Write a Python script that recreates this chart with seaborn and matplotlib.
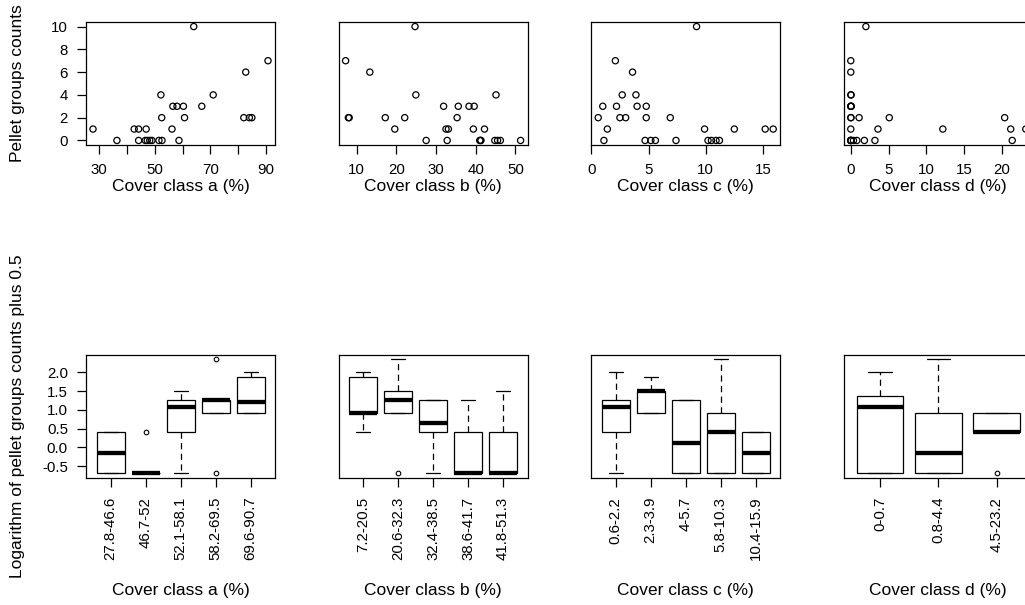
import numpy as np
import pandas as pd
import matplotlib
matplotlib.use("Agg")
import matplotlib.pyplot as plt
import seaborn as sns

# Cover (%) and pellet group counts per sampling plot, one pair per cover class
cover_a = [27.8, 36.4, 42.6, 44.2, 44.2, 46.6,
           46.9, 47.3, 48.2, 49.0, 51.5,
           52.6, 52.2, 52.5, 56.2, 56.5, 58.0,
           58.7, 60.3, 60.7, 64.0, 66.9,
           71.0, 82.0, 82.7, 84.0, 84.9, 90.7]
count_a = [1, 0, 1, 1, 0, 0,
           1, 0, 0, 0, 0,
           0, 4, 2, 1, 3, 3,
           0, 3, 2, 10, 3,
           4, 2, 6, 2, 2, 7]

cover_b = [7.2, 7.9, 8.1, 13.3, 17.2, 19.6,
           22.1, 24.7, 24.9, 27.5, 31.9,
           32.5, 32.8, 33.1, 35.3, 35.6, 38.3,
           39.4, 39.6, 41.0, 41.2, 41.3,
           42.2, 44.8, 45.1, 45.5, 46.2, 51.3]
count_b = [7, 2, 2, 6, 2, 1,
           2, 10, 4, 0, 3,
           1, 0, 1, 2, 3, 3,
           1, 3, 0, 0, 0,
           1, 0, 4, 0, 0, 0]

cover_c = [0.6, 1.0, 1.1, 1.4, 2.1, 2.2,
           2.5, 2.7, 3.0, 3.6, 3.9,
           4.0, 4.7, 4.8, 4.8, 5.2, 5.6,
           6.9, 7.4, 9.2, 9.9, 10.2,
           10.5, 10.9, 11.2, 12.5, 15.2, 15.9]
count_c = [2, 3, 0, 1, 7, 3,
           2, 4, 2, 6, 4,
           3, 0, 3, 2, 0, 0,
           2, 0, 10, 1, 0,
           0, 0, 0, 1, 1, 1]

cover_d = [0, 0, 0, 0, 0.35, 0, 0, 0.02, 0, 0, 0.04, 0.04, 0, 0.04, 0, 0,
           0.8, 1.1, 1.8, 2.0, 3.2, 3.6,
           5.1, 12.2, 20.4, 21.2, 21.4, 23.2]
count_d = [0, 0, 0, 0, 0, 1, 2, 2, 3, 3, 3, 3, 4, 4, 6, 7,
           0, 2, 0, 10, 0, 1,
           2, 1, 2, 1, 0, 1]

# Cover classes (ranges in %) used for the boxplots
classes_a = ["27.8-46.6", "46.7-52", "52.1-58.1", "58.2-69.5", "69.6-90.7"]
classes_b = ["7.2-20.5", "20.6-32.3", "32.4-38.5", "38.6-41.7", "41.8-51.3"]
classes_c = ["0.6-2.2", "2.3-3.9", "4-5.7", "5.8-10.3", "10.4-15.9"]
classes_d = ["0-0.7", "0.8-4.4", "4.5-23.2"]

# Axis ticks
ticks_a = [30, 40, 50, 60, 70, 80, 90]
ticklabels_a = ["30", "", "50", "", "70", "", "90"]
ticks_b = [10, 20, 30, 40, 50]
ticks_c = [0, 5, 10, 15]
ticks_d = [0, 5, 10, 15, 20]
count_ticks = [0, 2, 4, 6, 8, 10]
log_ticks = [-0.5, 0.0, 0.5, 1.0, 1.5, 2.0]
log_ticklabels = ["-0.5", "0.0", "0.5", "1.0", "1.5", "2.0"]

panels = [
    ("a", cover_a, count_a, classes_a, ticks_a, ticklabels_a),
    ("b", cover_b, count_b, classes_b, ticks_b, [str(t) for t in ticks_b]),
    ("c", cover_c, count_c, classes_c, ticks_c, [str(t) for t in ticks_c]),
    ("d", cover_d, count_d, classes_d, ticks_d, [str(t) for t in ticks_d]),
]


def tukey_stats(values, label, coef=1.5):
    """Five-number summary with Tukey hinges and 1.5 IQR whiskers."""
    v = np.sort(np.asarray(values, dtype=float))
    n = len(v)
    n4 = np.floor((n + 3) / 2) / 2
    d = np.array([1, n4, (n + 1) / 2, n + 1 - n4, n]) - 1
    five = 0.5 * (v[np.floor(d).astype(int)] + v[np.ceil(d).astype(int)])
    q1, med, q3 = five[1], five[2], five[3]
    iqr = q3 - q1
    out = (v < q1 - coef * iqr) | (v > q3 + coef * iqr)
    inside = v[~out]
    return dict(med=med, q1=q1, q3=q3, whislo=inside.min(),
                whishi=inside.max(), fliers=v[out], label=label)


def padded(lo, hi, frac=0.04):
    pad = (hi - lo) * frac
    return lo - pad, hi + pad


sns.set_theme(style="ticks")
plt.rcParams.update({
    "font.family": ["Liberation Sans", "DejaVu Sans"],
    "axes.edgecolor": "black",
    "axes.linewidth": 0.9,
    "axes.labelcolor": "black",
    "text.color": "black",
    "xtick.color": "black",
    "ytick.color": "black",
    "xtick.direction": "out",
    "ytick.direction": "out",
    "axes.facecolor": "white",
    "figure.facecolor": "white",
})

W, H, DPI = 1025, 605, 100
fig = plt.figure(figsize=(W / DPI, H / DPI), dpi=DPI)


def rect(left, top, right, bottom):
    return [left / W, 1 - bottom / H, (right - left) / W, (bottom - top) / H]


col_left = [86, 338.6, 591.2, 843.8]
col_width = 189
top_row = (22, 145)
bottom_row = (354.5, 478)

tick_kw = dict(length=6.5, width=0.9, pad=6.5, labelsize=10.8)
label_size = 12.5

for i, (name, cover, count, classes, xt, xtl) in enumerate(panels):
    cover = np.asarray(cover, dtype=float)
    count = np.asarray(count, dtype=float)
    xlabel = f"Cover class {name} (%)"

    # --- scatter of raw counts against cover ---
    ax = fig.add_axes(rect(col_left[i], top_row[0], col_left[i] + col_width, top_row[1]))
    df = pd.DataFrame({"cover": cover, "count": count})
    sns.scatterplot(data=df, x="cover", y="count", ax=ax, marker="o", s=20,
                    facecolors="none", edgecolor="black", linewidth=0.9,
                    legend=False, zorder=3)
    ax.set_xlim(*padded(cover.min(), cover.max()))
    ax.set_ylim(*padded(count.min(), count.max()))
    ax.set_xticks(xt, labels=xtl)
    ax.tick_params(axis="both", **tick_kw)
    if i == 0:
        ax.set_yticks(count_ticks, labels=[str(t) for t in count_ticks])
        ax.set_ylabel("Pellet groups counts", fontsize=label_size)
        ax.yaxis.label.set_verticalalignment("center")
        ax.yaxis.set_label_coords((17.5 - col_left[0]) / col_width, 0.5)
    else:
        ax.set_yticks([])
        ax.set_ylabel("")
    ax.set_xlabel(xlabel, fontsize=label_size)
    ax.xaxis.label.set_verticalalignment("center")
    ax.xaxis.set_label_coords(0.5, -(187 - top_row[1]) / (top_row[1] - top_row[0]))
    for sp in ax.spines.values():
        sp.set_visible(True)
        sp.set_linewidth(0.9)

    # --- boxplots of log(count + 0.5) by cover class ---
    ax = fig.add_axes(rect(col_left[i], bottom_row[0], col_left[i] + col_width, bottom_row[1]))
    log_count = np.log(count + 0.5)
    uppers = [float(c.split("-")[1]) for c in classes]
    group = np.searchsorted(uppers, cover, side="left")
    stats = [tukey_stats(log_count[group == k], classes[k]) for k in range(len(classes))]
    pos = np.arange(1, len(classes) + 1)
    ax.bxp(stats, positions=pos, widths=0.8, patch_artist=True, showfliers=True,
           manage_ticks=False, capwidths=0.4,
           boxprops=dict(facecolor="white", edgecolor="black", linewidth=0.9),
           medianprops=dict(color="black", linewidth=3.1, solid_capstyle="butt"),
           whiskerprops=dict(color="black", linewidth=0.9, linestyle=(0, (5, 3.5))),
           capprops=dict(color="black", linewidth=0.9),
           flierprops=dict(marker="o", markerfacecolor="none", markeredgecolor="black",
                           markersize=3.3, markeredgewidth=0.8))
    k = len(classes)
    ax.set_xlim(0.5 - 0.04 * k, k + 0.5 + 0.04 * k)
    ax.set_ylim(*padded(log_count.min(), log_count.max()))
    ax.set_xticks(pos, labels=classes, rotation=90)
    ax.tick_params(axis="both", **tick_kw)
    ax.tick_params(axis="x", pad=7)
    if i == 0:
        ax.set_yticks(log_ticks, labels=log_ticklabels)
        ax.set_ylabel("Logarithm of pellet groups counts plus 0.5", fontsize=label_size)
        ax.yaxis.label.set_verticalalignment("center")
        ax.yaxis.set_label_coords((17.5 - col_left[0]) / col_width, 0.5)
    else:
        ax.set_yticks([])
    ax.set_xlabel(xlabel, fontsize=label_size)
    ax.xaxis.label.set_verticalalignment("center")
    ax.xaxis.set_label_coords(0.5, -(590 - bottom_row[1]) / (bottom_row[1] - bottom_row[0]))
    for sp in ax.spines.values():
        sp.set_visible(True)
        sp.set_linewidth(0.9)

fig.savefig("out.png", dpi=DPI, facecolor="white")
